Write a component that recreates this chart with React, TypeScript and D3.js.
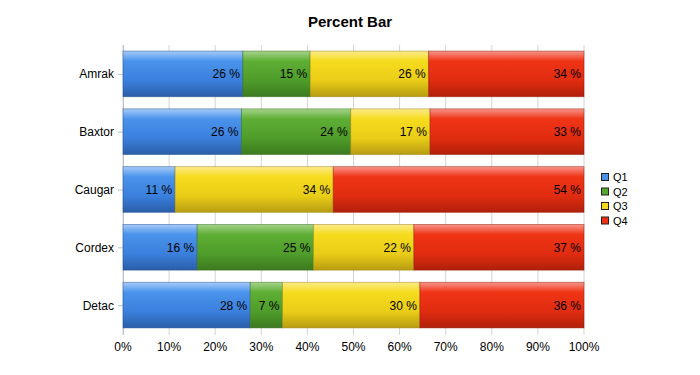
import { useEffect, useRef } from "react";
import * as d3 from "d3";

const categories = ["Amrak", "Baxtor", "Caugar", "Cordex", "Detac"];
const seriesNames = ["Q1", "Q2", "Q3", "Q4"];
const q1 = [26.0, 25.7, 11.3, 16.1, 27.6];
const q2 = [14.6, 23.7, 0, 25.2, 7.0];
const q3 = [25.7, 17.2, 34.3, 21.8, 29.8];
const q4 = [33.7, 33.4, 54.4, 36.9, 35.6];
const xTicks = [0, 10, 20, 30, 40, 50, 60, 70, 80, 90, 100];

const colors = [
    { top: "#a6cbf8", mid: "#4a93ec", low: "#3a7fdc", bot: "#2a5ea8", edge: "#23508f", key: "#4a8fe8" },
    { top: "#a6d38c", mid: "#5eae35", low: "#4f9c2a", bot: "#3c7a1f", edge: "#356a1b", key: "#55a72f" },
    { top: "#fbea8a", mid: "#f6dc1e", low: "#e8cc17", bot: "#b89c12", edge: "#9a8310", key: "#f5d81c" },
    { top: "#f7958a", mid: "#f03416", low: "#e02c10", bot: "#b0200a", edge: "#931a08", key: "#ee3010" },
];

export default function App() {
    const ref = useRef<SVGSVGElement>(null);

    useEffect(() => {
        const width = 700;
        const height = 375;
        const svg = d3.select(ref.current)
            .attr("width", width)
            .attr("height", height)
            .style("position", "absolute")
            .style("left", "0px")
            .style("top", "0px")
            .style("font-family", "Helvetica, Arial, 'Liberation Sans', sans-serif");

        svg.selectAll("*").remove();

        const left = 123, right = 584, top = 45, bottom = 334;

        const x = d3.scaleLinear().domain([0, 100]).range([left, right]);
        const y = d3.scaleBand()
            .domain(categories)
            .range([top, bottom])
            .paddingInner(0.21)
            .paddingOuter(0.105);

        const defs = svg.append("defs");
        colors.forEach((c, i) => {
            const g = defs.append("linearGradient")
                .attr("id", "grad" + i)
                .attr("x1", 0).attr("y1", 0).attr("x2", 0).attr("y2", 1);
            g.append("stop").attr("offset", "0%").attr("stop-color", c.top);
            g.append("stop").attr("offset", "22%").attr("stop-color", c.mid);
            g.append("stop").attr("offset", "65%").attr("stop-color", c.low);
            g.append("stop").attr("offset", "100%").attr("stop-color", c.bot);
        });

        // title
        svg.append("text")
            .attr("x", 350)
            .attr("y", 27)
            .attr("text-anchor", "middle")
            .attr("font-size", 15)
            .attr("font-weight", "bold")
            .text("Percent Bar");

        // grid
        svg.append("g")
            .selectAll("line")
            .data(xTicks)
            .join("line")
            .attr("x1", d => x(d)).attr("x2", d => x(d))
            .attr("y1", top).attr("y2", bottom + 1)
            .attr("stroke", "#d4d4d4")
            .attr("stroke-width", 1);

        // x tick labels
        svg.append("g")
            .selectAll("text")
            .data(xTicks)
            .join("text")
            .attr("x", d => x(d))
            .attr("y", 351)
            .attr("text-anchor", "middle")
            .attr("font-size", 12)
            .text(d => d + "%");

        // y axis
        svg.append("line")
            .attr("x1", left + 0.5).attr("x2", left + 0.5)
            .attr("y1", top).attr("y2", bottom + 1)
            .attr("stroke", "#b4c3d8");

        const yAxis = svg.append("g");
        categories.forEach(cat => {
            const cy = (y(cat) ?? 0) + y.bandwidth() / 2;
            yAxis.append("line")
                .attr("x1", left - 5).attr("x2", left)
                .attr("y1", cy + 0.5).attr("y2", cy + 0.5)
                .attr("stroke", "#b4c3d8");
            yAxis.append("text")
                .attr("x", left - 9)
                .attr("y", cy + 4.5)
                .attr("text-anchor", "end")
                .attr("font-size", 12)
                .text(cat);
        });

        // stacked bars
        const rows = categories.map((c, i) => ({ cat: c, vals: [q1[i], q2[i], q3[i], q4[i]] }));
        const bars = svg.append("g");
        rows.forEach(row => {
            const total = d3.sum(row.vals);
            let acc = 0;
            row.vals.forEach((v, si) => {
                const pct = (v / total) * 100;
                const x0 = x(acc);
                acc += pct;
                const x1 = x(acc);
                if (pct <= 0) return;
                const by = y(row.cat) ?? 0;
                bars.append("rect")
                    .attr("x", x0)
                    .attr("y", by)
                    .attr("width", x1 - x0)
                    .attr("height", y.bandwidth())
                    .attr("fill", `url(#grad${si})`)
                    .attr("stroke", colors[si].edge)
                    .attr("stroke-opacity", 0.6)
                    .attr("stroke-width", 0.8);
                bars.append("text")
                    .attr("x", x1 - 3)
                    .attr("y", by + y.bandwidth() / 2 + 4.5)
                    .attr("text-anchor", "end")
                    .attr("font-size", 12)
                    .text(Math.round(pct) + " %");
            });
        });

        // legend
        const legend = svg.append("g");
        seriesNames.forEach((name, i) => {
            const ly = 177 + i * 14.5;
            legend.append("rect")
                .attr("x", 601.5).attr("y", ly - 3.5)
                .attr("width", 7).attr("height", 7)
                .attr("fill", colors[i].key)
                .attr("stroke", "#222")
                .attr("stroke-width", 1);
            legend.append("text")
                .attr("x", 613)
                .attr("y", ly + 4)
                .attr("font-size", 11)
                .text(name);
        });
    }, []);

    return <svg ref={ref}></svg>;
}
